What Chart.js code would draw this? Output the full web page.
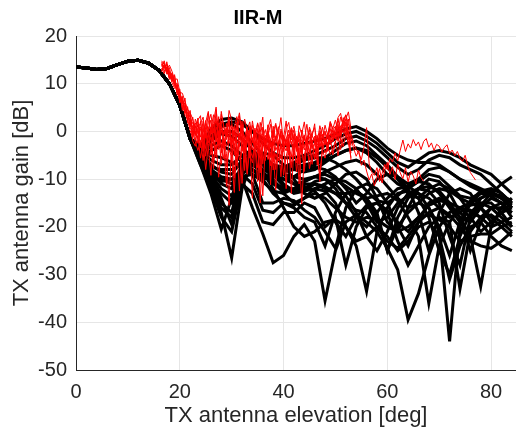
<!DOCTYPE html>
<html>
<head>
<meta charset="utf-8">
<script src="https://cdn.jsdelivr.net/npm/chart.js@4"></script>
<style>
  body { margin: 0; background: #fff; }
  canvas { display: block; }
</style>
</head>
<body>
<canvas id="grafico" width="516" height="431"></canvas>
<script>
// elevation (deg) for the black curves, 2 deg steps
const blackX = [0,2,4,6,8,10,12,14,16,18,20,22,24,26,28,30,32,34,36,38,40,42,44,46,48,50,52,54,56,58,60,62,64,66,68,70,72,74,76,78,80,82,84];
// common main lobe 0..22 deg
const blackHead = [13.5,13.3,13.0,13.2,14.0,14.7,14.9,14.3,12.8,10.0,5.5,-1.5];
// each curve from 24 to 84 deg
const u1 = [-3,0,1.5,2,1.5,0,-1.5,-2.5,-3,-3,-2.5,-2,-1.5,-0.5,0.5,1.0,0,-1.5,-3.5,-5,-6,-6.5,-6.5,-7,-8.5,-10,-11.5,-12.5,-13,-14,-15];
const u2 = [-3.5,0.5,2.5,2.8,2,0,-2.5,-4.5,-5.5,-5.5,-5,-4,-3,-1.5,-0.5,0,-1,-2.5,-4.5,-6.5,-7.5,-6,-4.5,-4,-4.5,-5.5,-7,-8,-9,-11,-13];
const u3 = [-4,-1,1,1.5,0,-2.5,-5,-7,-7.5,-6.5,-5.5,-5,-4,-3,-1.5,-1,-2,-3.5,-5.5,-7.5,-9,-8,-6,-5,-5.5,-7,-8,-9,-11,-13,-15];
const u4 = [-5,-2,-0.5,-1,-3,-6,-8,-9,-8.5,-7.5,-7,-6.5,-5.5,-4,-2.5,-2,-3,-5,-7,-9.5,-11,-10,-8,-7.5,-8.5,-10,-11,-12,-13,-14,-16];
const u5 = [-5.5,-3,-2,-3,-5,-8,-9.5,-9,-8,-8,-8.5,-8,-6.5,-5,-4,-3.5,-4.5,-6.5,-9,-11,-12,-10.5,-9,-9.5,-11.5,-13.5,-14,-13,-12.5,-14,-16];
const u6 = [-4.5,-1.5,0,0,-1.5,-4,-6.5,-8,-8.5,-8,-7.5,-7,-6,-5,-4,-3.5,-4,-5.5,-7.5,-10,-13,-14,-12,-11,-12,-14,-17,-18,-16,-15,-15.5];
const u7 = [-6,-4,-3,-4,-6.5,-9,-10,-9.5,-9,-9.5,-10,-9.5,-8.5,-7.5,-6.5,-6,-7,-9,-11.5,-14,-16,-15,-13,-12,-12.5,-14,-15,-14,-13,-13.5,-14.5];
const m1 = [-7,-13,-20.5,-14,-7,-5,-6,-8.5,-10,-9.5,-8,-7.5,-8,-9.5,-12,-15,-13,-10,-9,-9.5,-12,-17,-25,-17,-13,-12,-13,-16,-19,-17,-15];
const m2 = [-6,-11,-17,-26.5,-12,-6,-4.5,-5,-7,-10,-13,-14,-13,-11,-9,-8.5,-10,-14,-19,-21,-16,-12,-10,-10.5,-13,-17,-19,-16,-14,-15,-18];
const m3 = [-5,-9,-14,-19.5,-10,-16,-21.5,-27.5,-26,-22,-19.5,-23,-35.5,-25,-19,-17.5,-19,-21,-24.5,-29,-39.5,-34,-26,-20,-17,-16,-16.5,-18,-20,-19,-18];
const m4 = [-6,-10,-15,-17,-8,-9,-15,-15,-14,-14.5,-16.5,-18,-21,-24.5,-16,-12,-11,-12,-15,-20,-24,-19,-15,-14,-15.5,-18,-22,-32.5,-20,-16,-14];
const m5 = [-6.5,-11,-16,-18,-9,-11,-16.5,-17,-15,-16,-18,-19,-24,-17,-13,-12.5,-14,-18,-25,-20,-17,-15,-16,-21,-44,-20,-15,-13,-13.5,-15,-17];
const m6 = [-7,-12,-18,-21,-11,-13,-19,-19.5,-17,-17,-15,-16,-20,-18,-28,-20,-16,-15,-17,-23,-28,-24,-20,-18,-19,-33,-21,-18,-17.5,-19,-21];
const m7 = [-5,-8,-10,-11,-8,-6,-7,-10,-13,-15,-14,-12,-12.5,-15,-20,-24,-33.5,-21,-16,-13,-12.5,-14,-18,-25,-30,-22,-17,-15,-15,-17,-20];
const m8 = [-4.5,-7,-8.5,-9,-6,-4.5,-5,-8,-11,-12.5,-12,-10.5,-10,-11,-13.5,-17,-22,-25,-21,-16,-13,-12,-12.5,-15,-22,-28,-18,-14,-13,-14,-16];
const m9 = [-5,-9,-12,-13.5,-9,-7,-8.5,-12,-16,-20,-22,-21,-19,-18.5,-20,-23,-22,-20,-22,-25,-23,-20,-19,-22,-31,-24,-20,-19,-22,-24,-25];
const m10 = [-4,-6,-7,-7,-5,-4,-5.5,-8,-10,-11,-10.5,-9.5,-9,-10,-11.5,-13,-14,-13.5,-13,-14.5,-18,-22,-36,-24,-19,-16,-15,-16,-18,-20,-22];
const m11 = [-4.5,-8,-11,-12,-7,-5.5,-6.5,-9,-11.5,-13,-12.5,-11,-11.5,-13,-15,-16.5,-17,-20,-23,-24.5,-22,-19,-17,-16,-17.5,-20,-23,-24,-24.5,-23,-21];
const m12 = [-5.5,-9.5,-13,-15,-10,-8,-9,-11,-12.5,-12,-10.5,-9.5,-10,-12,-15,-18,-20,-17,-14,-12,-11.5,-13,-16,-20,-26,-19,-14.5,-12.5,-12,-13,-15];
const m13 = [-4,-5,-5.5,-6.5,-7.5,-7,-6.5,-7,-9,-11,-12.5,-12,-11,-10,-10.5,-12,-15,-19,-18,-15,-13.5,-13,-14,-16,-18,-17,-15.5,-15,-16,-18,-20];
const m14 = [-6,-8,-9.5,-10,-9.5,-9,-10.5,-12.5,-13,-12,-11.5,-12.5,-15,-19,-22,-18,-15.5,-15,-16.5,-19,-21,-18,-15.5,-14.5,-15,-16,-18,-21,-19,-17,-16];
const l1 = [-3,-1,0,0,-1.5,-4,-6,-7.5,-8,-7,-6,-5.5,-5.5,-6.5,-8,-10,-12.5,-14.5,-15,-13.5,-11.5,-10.5,-11,-13,-16,-19,-18,-15.5,-13,-11,-9.5];
const l2 = [-5,-7.5,-8,-8,-7,-7,-8.5,-10.5,-12,-12,-11,-11,-12,-13,-13,-12.5,-14,-17,-25,-18,-14,-12,-11.5,-12.5,-15,-18,-25,-19,-16,-16,-17];
const l3 = [-6,-9,-10.5,-10,-8,-8,-10,-13,-15,-15.5,-14,-13,-14,-16,-18,-19,-18,-18.5,-20,-21,-20,-18,-17.5,-18.5,-20,-23,-22,-21.5,-21.5,-20,-19];
const blackTails = [u1,u2,u3,u4,u5,u6,u7,m1,m2,m3,m4,m5,m6,m7,m8,m9,m10,m11,m12,m13,m14,l1,l2,l3];

// elevation (deg) for the red curves, 0.5 deg steps
const redX = [16.5,17,17.5,18,18.5,19,19.5,20,20.5,21,21.5,22,22.5,23,23.5,24,24.5,25,25.5,26,26.5,27,27.5,28,28.5,29,29.5,30,30.5,31,31.5,32,32.5,33,33.5,34,34.5,35,35.5,36,36.5,37,37.5,38,38.5,39,39.5,40,40.5,41,41.5,42,42.5,43,43.5,44,44.5,45,45.5,46,46.5,47,47.5,48,48.5,49,49.5,50,50.5,51,51.5,52,52.5,53,53.5,54,54.5,55,55.5,56,56.5,57,57.5,58,58.5,59,59.5,60,60.5,61,61.5,62,62.5,63,63.5,64,64.5,65,65.5,66,66.5,67,67.5,68,68.5,69,69.5,70,70.5,71,71.5,72,72.5,73,73.5,74,74.5,75,75.5,76,76.5,77];
const r1 = [14.5,13.2,14.1,12.0,11.5,10.3,9.2,7.8,6.1,4.9,3.2,2.5,0.4,1.8,-0.5,0.9,-1.8,2.3,-0.7,-3.5,1.6,-2.2,3.1,-4.5,0.2,-1.0,2.6,-6.5,-0.8,1.9,-3.2,0.7,-1.5,-9.0,1.2,-2.4,0.3,-1.9,-4.8,0.9,-2.7,-0.4,-5.5,1.1,-1.6,-3.9,0.5,-2.1,-12.0,-1.3,0.8,-3.6,-2.0,-0.2,-4.4,-1.5,-3.0,0.4,-2.6,-5.8,-1.1,-3.4,-0.6,-2.9,-1.0,0.6,-2.2,-0.3,1.5,-1.8,2.4,0.2,-1.2,-3.0];
const r2 = [13.6,14.8,12.5,13.4,10.8,11.6,8.4,8.9,5.2,6.0,2.1,4.4,-1.2,0.6,2.8,-2.9,0.3,-0.8,3.9,-1.4,-7.8,0.9,-0.3,2.1,-2.7,-11.5,0.5,1.4,-2.0,-0.6,3.3,-4.1,-1.0,0.8,-2.8,-14.0,-0.9,1.6,-3.3,-1.2,0.4,-2.5,-7.2,-0.1,-1.9,1.0,-3.7,-0.8,-2.3,-5.0,0.2,-1.6,-8.5,-2.8,-0.4,-3.2,-1.4,-4.6,-0.9,-2.0,-3.8,-1.5,0.9,-2.4,-0.7,1.6,-1.3,0.5,2.7,-0.6,1.8,3.4,0.1,-2.0];
const r3 = [12.8,13.9,13.0,11.2,12.3,9.6,10.1,6.9,7.4,3.8,5.2,1.3,3.0,-1.8,0.7,-3.4,1.5,-5.2,-0.9,0.8,-2.6,4.6,-1.1,0.3,-3.5,1.7,-0.4,-2.2,-9.8,-0.5,-1.8,2.2,-3.0,-0.9,-5.6,-1.4,-2.9,0.6,-15.0,-2.2,-0.8,-3.6,-1.7,0.2,-4.0,-2.5,-9.5,-1.2,-3.1,-0.6,-2.4,-4.9,-1.8,-11.0,-2.7,-0.9,-3.5,-6.0,-2.2,-1.0,-3.9,-0.3,-2.6,-1.4,-4.2,-0.5,-1.9,0.8,-1.0,1.2,-0.3,2.0,-0.8,-4.5];
const r4 = [14.2,12.6,13.5,12.8,10.2,9.0,9.8,7.1,5.8,5.5,3.6,1.0,1.9,0.2,-2.5,0.5,-0.6,-3.6,0.1,2.4,-1.9,-5.4,-0.2,1.2,-1.6,-3.1,-0.9,0.9,-2.3,-7.2,-0.3,-1.3,-4.4,-0.7,0.6,-2.0,-3.3,-10.5,-0.6,-1.7,-3.0,0.1,-2.2,-6.4,-1.0,-3.2,-0.5,-2.8,-4.1,-1.2,-13.0,-3.5,-1.1,-2.4,-4.7,-0.8,-3.3,-2.0,-6.9,-1.7,-2.9,-0.9,-4.0,-1.8,-2.7,-0.7,0.4,-1.6,0.9,-0.9,2.9,1.1,-0.4,-6.0];
const r5 = [13.9,14.4,12.2,12.1,11.9,10.0,8.1,7.5,6.8,4.1,4.0,2.9,0.8,-0.6,1.4,-1.2,2.2,-0.3,-2.4,0.4,3.5,-0.9,-3.8,1.0,-0.7,0.8,-1.9,-0.2,1.1,-2.5,-1.0,0.5,-6.5,-1.8,-0.6,1.3,-2.0,-3.4,-0.2,-1.3,-2.8,-0.9,1.5,-3.0,-1.4,-0.2,-2.9,-4.2,-1.6,0.3,-2.6,-1.1,-3.6,-0.7,-2.1,-3.9,-1.2,-0.4,-2.5,-1.3,-0.8,-3.1,-1.9,-0.2,-1.5,-2.4,0.3,1.1,-0.9,0.7,2.2,3.5,1.6,-0.5,
  -2.5,-3.8,-4.6,-5.9,-3.2,0.8,-6.8,-8.5,-9.2,-7.6,-10.5,-8.8,-6.9,-8.0,-5.7,-6.4,-4.5,-6.2,-3.9,-1.8,-4.2,-2.6,-3.5,-1.7,-3.0,-2.2,-3.8,-2.1,-1.5,-3.3,-2.4,-4.0,-2.7,-3.1,-4.3,-3.4,-2.8,-4.6,-3.9,-5.1,-4.2,-5.6,-6.3,-5.0,-7.2,-8.6,-9.4,-10.2];
const r6 = [13.0,13.5,13.8,11.4,11.0,10.8,8.6,6.4,6.5,3.4,2.7,3.6,-0.5,1.2,-1.5,2.1,-2.8,0.9,1.0,-5.0,0.6,-1.5,1.8,-2.6,-5.8,0.4,-2.5,-1.1,0.3,-3.8,-12.5,-0.8,-2.4,0.5,-1.5,-3.9,-0.4,-2.8,-1.0,-6.8,-2.0,0.0,-3.3,-1.6,-8.0,-2.3,-0.8,-3.7,-1.9,-2.6,-5.4,-0.6,-2.9,-1.5,-3.4,-7.5,-2.0,-1.1,-3.6,-2.5,-4.5,-1.2,-3.0,-2.1,-0.4,-2.8,-1.4,-0.2,-2.1,0.4,1.0,-0.8,2.6,-1.5,
  -3.5,-5.2,-4.0,-7.1,-6.0,-8.3,-10.2,-8.9,-11.4,-9.6,-7.8,-10.8,-8.2,-6.5,-9.0,-7.4,-10.1,-6.8,-8.7,-9.9,-7.6,-10.6,-8.4,-9.3,-11.0,-8.1,-9.7,-10.4];
const r7 = [14.8,14.0,12.9,13.9,12.6,10.9,11.0,8.2,8.0,6.3,4.6,3.9,2.6,-0.9,2.4,3.3,-4.2,1.9,4.2,-0.6,2.0,5.1,-2.4,3.6,1.1,-1.2,4.4,2.3,-5.0,1.5,3.9,-0.8,2.6,0.1,-3.7,2.2,-1.1,1.8,-0.2,3.0,-6.1,0.7,2.5,-1.3,1.4,-0.5,2.9,-3.0,0.6,1.9,-1.8,0.3,-4.2,1.2,-0.6,2.0,-2.2,0.9,-1.0,1.6,-7.0,0.2,-1.5,1.3,-0.8,2.1,0.4,-1.6,2.9,3.8,1.0,2.6,4.1,0.5];
const r8 = [13.3,12.1,14.6,11.8,10.4,11.9,7.6,8.3,4.4,7.0,1.8,2.2,-2.0,-3.1,-1.0,-5.6,-2.4,-8.0,-3.0,-1.2,-6.3,-2.8,-9.6,-4.0,-1.5,-7.4,-3.9,-5.2,-12.8,-2.6,-6.0,-4.3,-1.9,-8.8,-3.5,-5.5,-2.1,-7.6,-4.4,-13.5,-3.1,-5.9,-2.3,-8.1,-4.6,-6.2,-3.0,-9.2,-5.3,-2.8,-7.0,-4.1,-6.6,-3.4,-15.2,-5.0,-2.5,-7.8,-4.7,-3.6,-6.1,-9.0,-4.0,-5.6,-2.9,-4.8,-3.7,-2.0,-5.1,-1.4,-3.2,-0.6,-2.5,-5.5];
const r9 = [14.0,13.7,12.0,12.4,11.2,9.4,9.5,6.0,7.2,4.5,2.4,0.2,-1.5,2.6,0.9,1.7,3.0,-1.4,1.8,3.6,-0.3,2.7,-2.9,4.2,0.6,-1.7,2.9,-3.3,0.9,3.1,-1.6,1.3,-8.2,0.4,2.0,-2.1,0.7,-4.5,1.9,-0.9,-2.4,1.4,-11.2,-0.2,1.7,-2.6,0.0,-1.3,2.2,-3.4,-0.7,1.1,-2.0,-6.8,0.3,-1.8,1.5,-2.7,-0.4,0.8,-2.3,1.2,-1.1,0.1,-3.5,1.9,0.6,2.4,-0.2,3.0,1.4,2.5,-0.9,-2.8];
const r10 = [12.5,14.1,13.2,10.9,12.0,10.5,8.0,7.3,5.0,4.2,4.8,0.8,0.0,-2.2,-4.0,-1.9,-6.1,-0.4,-3.3,-9.2,-1.6,-4.1,-0.5,-6.9,-2.3,-4.6,-15.5,-1.4,-3.6,-5.7,-2.0,-10.9,-3.1,-1.2,-4.8,-6.6,-2.5,-4.2,-8.7,-1.9,-5.1,-3.4,-1.7,-4.5,-12.3,-2.7,-5.8,-3.6,-1.5,-4.4,-7.6,-2.9,-1.0,-5.2,-3.2,-8.4,-2.3,-4.3,-1.8,-5.9,-3.1,-10.5,-2.6,-4.5,-3.0,-1.3,-4.9,-2.2,-0.7,-3.8,-1.1,0.4,-2.7,-1.9];
const redSeries = [r1,r2,r3,r4,r5,r6,r7,r8,r9,r10];

const xTicks = [0,20,40,60,80];
const fonte = 'Liberation Sans, Arial, sans-serif';

const datasets = [];
blackTails.forEach(tail => {
    const ys = blackHead.concat(tail);
    datasets.push({
        data: ys.map((y, i) => ({ x: blackX[i], y: y })),
        borderColor: '#000',
        borderWidth: 3,
        order: 2
    });
});
redSeries.forEach(ys => {
    datasets.push({
        data: ys.map((y, i) => ({ x: redX[i], y: y })),
        borderColor: '#ff0000',
        borderWidth: 1,
        order: 1
    });
});

const ctx = document.getElementById('grafico');
new Chart(ctx, {
    type: 'line',
    data: { datasets: datasets },
    options: {
        responsive: false,
        animation: false,
        layout: { padding: 0 },
        elements: { point: { radius: 0 }, line: { tension: 0 } },
        plugins: {
            legend: { display: false },
            tooltip: { enabled: false },
            title: {
                display: true,
                text: 'IIR-M',
                color: '#000',
                font: { family: fonte, size: 20, weight: 'bold' },
                padding: { top: 6, bottom: 6 }
            }
        },
        scales: {
            x: {
                type: 'linear',
                min: 0,
                max: 84.8,
                afterBuildTicks: s => { s.ticks = xTicks.map(v => ({ value: v })); },
                afterFit: s => { s.height = 61; },
                ticks: { color: '#262626', font: { family: fonte, size: 20 }, padding: 10, maxRotation: 0 },
                grid: { color: '#e6e6e6', drawTicks: false },
                border: { color: '#262626', width: 1 },
                title: {
                    display: true,
                    text: 'TX antenna elevation [deg]',
                    color: '#262626',
                    font: { family: fonte, size: 22 },
                    padding: { top: 2, bottom: 2 }
                }
            },
            y: {
                min: -50,
                max: 20,
                afterFit: s => { s.width = 76; },
                ticks: { stepSize: 10, color: '#262626', font: { family: fonte, size: 20 }, padding: 9 },
                grid: { color: '#e6e6e6', drawTicks: false },
                border: { color: '#262626', width: 1 },
                title: {
                    display: true,
                    text: 'TX antenna gain [dB]',
                    color: '#262626',
                    font: { family: fonte, size: 22 },
                    padding: { top: 9, bottom: 0 }
                }
            }
        }
    }
});
</script>
</body>
</html>
